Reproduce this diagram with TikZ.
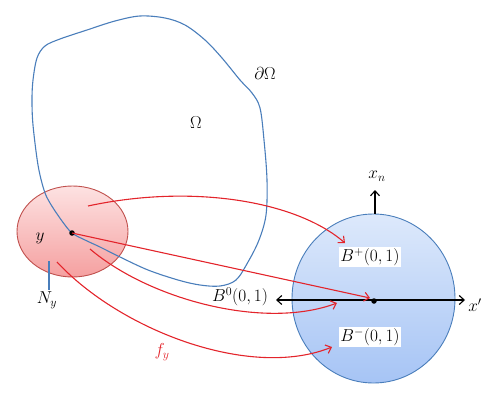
\documentclass[tikz,border=0pt]{standalone}
\usetikzlibrary{arrows.meta,shapes.geometric}
\definecolor{blobblue}{HTML}{4A7EBB}
\definecolor{arrred}{HTML}{E3242B}
\definecolor{ellred}{HTML}{C0504D}
\definecolor{btop}{HTML}{DDE9FB}
\definecolor{bbot}{HTML}{A6C4F5}
\definecolor{rtop}{HTML}{FDE2E2}
\definecolor{rbot}{HTML}{F5A0A0}
\tikzset{
  lbl/.style={inner sep=1pt, font=\LARGE},
  boxlbl/.style={lbl, fill=white, inner sep=1.5pt},
  maparrow/.style={arrred, line width=1.1pt, -{Straight Barb[length=5pt,width=9pt]}},
  axis/.style={black, line width=1.1pt, {Straight Barb[length=5pt,width=9pt]}-{Straight Barb[length=5pt,width=9pt]}},
}
\begin{document}
\begin{tikzpicture}[x=1pt,y=-1pt]
\useasboundingbox (0,0) rectangle (500,401);
% neighbourhood N_y
\node[ellipse, draw=ellred, line width=0.9pt, top color=rtop, bottom color=rbot,
      minimum width=111pt, minimum height=91pt] (Ny) at (72.5,231.5) {};
% unit ball
\node[ellipse, draw=blobblue, line width=0.9pt, top color=btop, bottom color=bbot,
      minimum width=163pt, minimum height=169pt] (B) at (373.5,298.5) {};
% boundary of Omega
\draw[blobblue, line width=1.1pt] plot[smooth cycle, tension=0.55] coordinates {
 (72,233) (62,221) (50,203) (44,190) (38,165) (33,125) (32,100) (33,80) (37,58) (45,46)
 (60,39) (87,30) (115,21) (140,16) (165,18) (185,25) (205,40) (222,58) (240,80) (252,93)
 (260,108) (264,140) (267,180) (266,215) (259,240) (248,262) (236,280) (220,286)
 (200,285) (178,280) (148,270) (120,257) (100,247) (85,240)};
% axes
\coordinate (xl) at (276,300);
\coordinate (xr) at (465,300);
\draw[axis] (xl) -- (xr);
\coordinate (xt) at (375,190);
\draw[black, line width=1.1pt, -{Straight Barb[length=5pt,width=9pt]}] (B.north -| xt) -- (xt);
% points
\node[circle, fill=black, inner sep=0pt, minimum size=5.5pt] (y0) at (72,233) {};
\node[circle, fill=black, inner sep=0pt, minimum size=5.5pt] (o) at (374,301) {};
% labels
\node[lbl] (dO) at (265,74) {$\partial\Omega$};
\node[lbl] (Om) at (196,123) {$\Omega$};
\node[lbl] (yl) at (40,238) {$y$};
\node[lbl] (Nyl) at (47,300) {$N_y$};
\coordinate (tk) at (49,261);
\draw[blobblue, line width=1.1pt] (tk) -- (tk |- Nyl.north);
\node[lbl, arrred] (fy) at (162,352) {$f_y$};
\node[lbl] (B0) at (240,297) {$B^0(0,1)$};
\node[boxlbl] (Bp) at (370,257) {$B^+(0,1)$};
\node[boxlbl] (Bm) at (370,337) {$B^-(0,1)$};
\node[lbl] (xn) at (377,176) {$x_n$};
\node[lbl] (xp) at (475,305) {$x'$};
% maps
\coordinate (s1) at (88,206);
\coordinate (t1) at (345,243);
\coordinate (s3) at (90,249);
\coordinate (t3) at (337,303);
\coordinate (s4) at (57,262);
\coordinate (t4) at (332,347);
\coordinate (t2) at (370,298);
\draw[maparrow] (s1) .. controls (190,184) and (295,200) .. (t1);
\draw[maparrow] (y0.center) -- (t2);
\draw[maparrow] (s3) .. controls (150,300) and (265,330) .. (t3);
\draw[maparrow] (s4) .. controls (120,330) and (250,380) .. (t4);
\end{tikzpicture}
\end{document}
